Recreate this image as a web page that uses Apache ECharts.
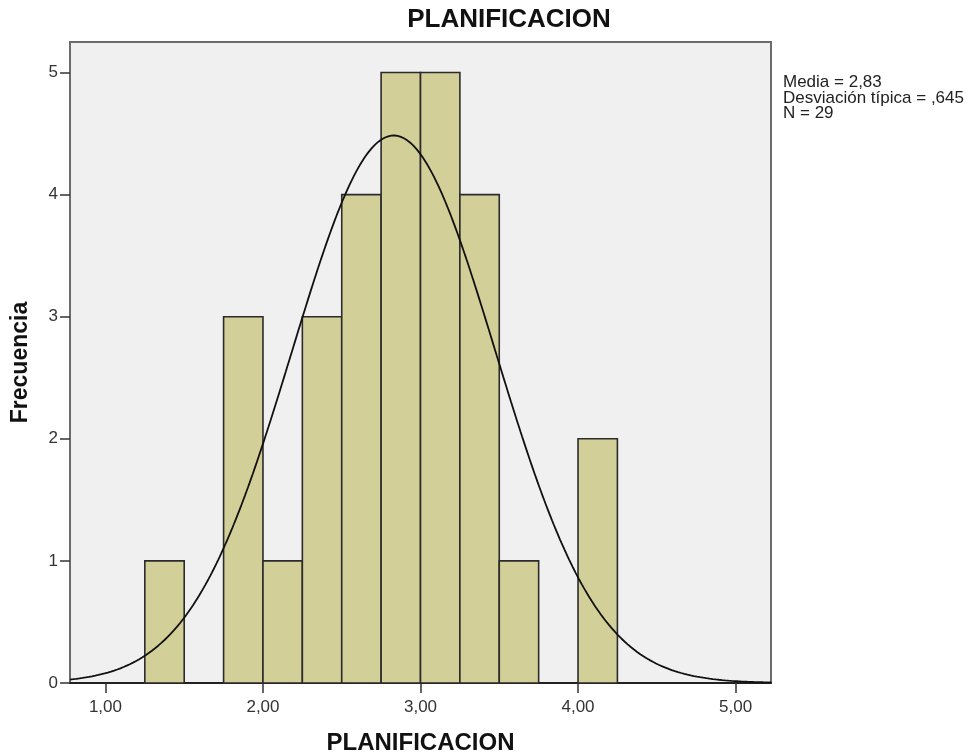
<!DOCTYPE html>
<html>
<head>
<meta charset="utf-8">
<script src="https://cdn.jsdelivr.net/npm/echarts@6/dist/echarts.min.js"></script>
<style>
  html, body { margin: 0; padding: 0; background: #fff; }
  #chart { width: 979px; height: 754px; }
</style>
</head>
<body>
<div id="chart"></div>
<script>
  // histogram bins (lower edge) and counts
  const binStarts = [1.25, 1.50, 1.75, 2.00, 2.25, 2.50, 2.75, 3.00, 3.25, 3.50, 3.75, 4.00]
  const binWidth = 0.25
  const counts = [1, 0, 3, 1, 3, 4, 5, 5, 4, 1, 0, 2]
  const xTicks = [1, 2, 3, 4, 5]
  const yTicks = [0, 1, 2, 3, 4, 5]
  // summary stats shown on the right
  const media = 2.83
  const desv = 0.645
  const n = 29
  const statLines = ['Media = 2,83', 'Desviación típica = ,645', 'N = 29']

  const fmt = v => v.toFixed(2).replace('.', ',')

  const barData = binStarts.map((s, i) => [s, s + binWidth, counts[i]]).filter(d => d[2] > 0)

  // fitted normal curve, scaled to counts (N * bin width)
  const curve = []
  for (let x = 0.775; x <= 5.226; x += 0.01) {
    const z = (x - media) / desv
    const y = n * binWidth / (desv * Math.sqrt(2 * Math.PI)) * Math.exp(-0.5 * z * z)
    curve.push([x, y])
  }

  const chart = echarts.init(document.getElementById('chart'))
  const font = '"Liberation Sans", Arial, sans-serif'

  chart.setOption({
    animation: false,
    textStyle: { fontFamily: font },
    grid: {
      left: 70, right: 208, top: 42, bottom: 71,
      containLabel: false,
      outerBoundsMode: 'none',
      show: true,
      backgroundColor: '#f0f0f0',
      borderColor: '#6b6b6b',
      borderWidth: 2
    },
    graphic: [
      {
        type: 'text', x: 509, y: 7,
        style: { text: 'PLANIFICACION', font: 'bold 26px ' + font, fill: '#111', align: 'center', textAlign: 'center' }
      },
      {
        type: 'text', x: 783, y: 75,
        style: { text: statLines.join('\n'), font: '17px ' + font, lineHeight: 15.5, fill: '#222' }
      }
    ],
    xAxis: {
      type: 'value',
      min: 0.775,
      max: 5.225,
      name: 'PLANIFICACION',
      nameLocation: 'middle',
      nameGap: 48,
      nameTextStyle: { fontSize: 24, fontWeight: 'bold', color: '#111' },
      axisLine: { lineStyle: { color: '#222', width: 2 } },
      axisTick: { show: true, length: 10, customValues: xTicks, lineStyle: { color: '#333', width: 1.5 } },
      axisLabel: { customValues: xTicks, formatter: v => fmt(v), fontSize: 17, color: '#333', margin: 16 },
      splitLine: { show: false }
    },
    yAxis: {
      type: 'value',
      min: 0,
      max: 5.25,
      interval: 1,
      name: 'Frecuencia',
      nameLocation: 'middle',
      nameGap: 38,
      nameTextStyle: { fontSize: 23, fontWeight: 'bold', color: '#111' },
      axisLine: { show: true, lineStyle: { color: '#6b6b6b', width: 2 } },
      axisTick: { show: true, length: 10, customValues: yTicks, lineStyle: { color: '#333', width: 1.5 } },
      axisLabel: { customValues: yTicks, fontSize: 17, color: '#333', margin: 12 },
      splitLine: { show: false }
    },
    series: [
      {
        type: 'custom',
        data: barData,
        encode: { x: [0, 1], y: 2 },
        renderItem: function (params, api) {
          const p0 = api.coord([api.value(0), api.value(2)])
          const p1 = api.coord([api.value(1), 0])
          return {
            type: 'rect',
            shape: { x: p0[0], y: p0[1], width: p1[0] - p0[0], height: p1[1] - p0[1] },
            style: { fill: '#d3cf98', stroke: '#2b2b2b', lineWidth: 1.6 }
          }
        },
        z: 2
      },
      {
        type: 'line',
        data: curve,
        showSymbol: false,
        lineStyle: { color: '#111', width: 1.8 },
        z: 3
      }
    ]
  })
</script>
</body>
</html>
